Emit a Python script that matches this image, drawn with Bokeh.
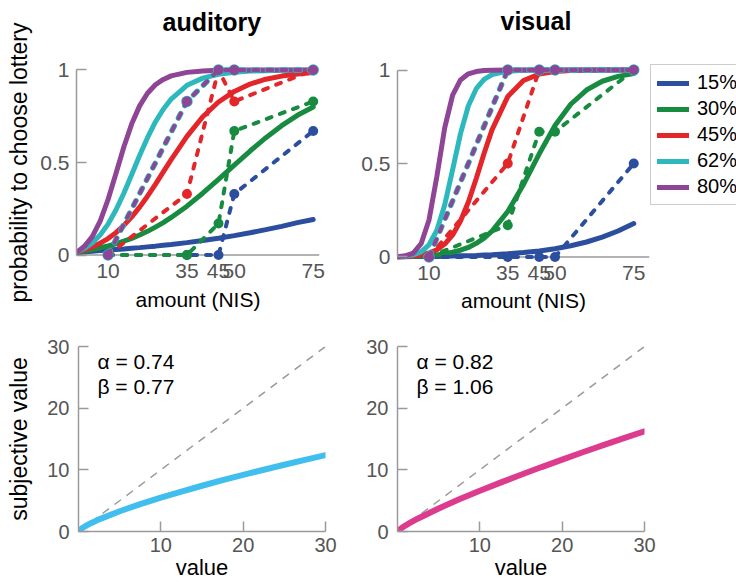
from bokeh.plotting import figure
from bokeh.layouts import column, row
from bokeh.models import Range1d, Legend, LegendItem, Label, FixedTicker, Span
from bokeh.embed import file_html
from bokeh.resources import INLINE

FONT = "Liberation Sans"

# ---------------- data ----------------
PANEL_TITLES = ["auditory", "visual"]
PROB_LABELS = ["15%", "30%", "45%", "62%", "80%"]
SERIES_COLORS = ["#2C4E9E", "#178B3F", "#E3262A", "#2DB8BD", "#8F4596"]

# observed choice proportions (dashed lines + dots)
AMOUNTS = [10, 35, 45, 50, 75]
AUD_OBS_15 = [0.0, 0.0, 0.0, 0.33, 0.67]
AUD_OBS_30 = [0.0, 0.0, 0.17, 0.67, 0.83]
AUD_OBS_45 = [0.0, 0.33, 1.0, 0.83, 1.0]
AUD_OBS_62 = [0.0, 0.83, 1.0, 1.0, 1.0]
AUD_OBS_80 = [0.0, 0.83, 1.0, 1.0, 1.0]
VIS_OBS_15 = [0.0, 0.0, 0.0, 0.0, 0.5]
VIS_OBS_30 = [0.0, 0.17, 0.67, 0.67, 1.0]
VIS_OBS_45 = [0.0, 0.5, 1.0, 1.0, 1.0]
VIS_OBS_62 = [0.0, 1.0, 1.0, 1.0, 1.0]
VIS_OBS_80 = [0.0, 1.0, 1.0, 1.0, 1.0]

# fitted curves (solid lines)
FIT_X = [0, 2.5, 5, 7.5, 10, 12.5, 15, 17.5, 20, 22.5, 25, 27.5, 30,
         35, 40, 45, 50, 55, 60, 65, 70, 75]
AUD_FIT_15 = [0.014, 0.018, 0.021, 0.024, 0.027, 0.030, 0.033, 0.037, 0.040, 0.044, 0.048,
              0.053, 0.057, 0.067, 0.079, 0.091, 0.105, 0.120, 0.137, 0.155, 0.175, 0.192]
AUD_FIT_30 = [0.014, 0.022, 0.030, 0.039, 0.049, 0.061, 0.075, 0.090, 0.108, 0.128, 0.151,
              0.175, 0.203, 0.264, 0.334, 0.409, 0.486, 0.562, 0.634, 0.699, 0.755, 0.800]
AUD_FIT_45 = [0.014, 0.028, 0.044, 0.064, 0.089, 0.121, 0.160, 0.206, 0.259, 0.318, 0.382,
              0.449, 0.516, 0.641, 0.747, 0.827, 0.884, 0.924, 0.950, 0.967, 0.978, 0.986]
AUD_FIT_62 = [0.014, 0.036, 0.065, 0.108, 0.167, 0.243, 0.334, 0.435, 0.538, 0.634, 0.719,
              0.788, 0.843, 0.917, 0.956, 0.977, 0.988, 0.994, 0.996, 0.998, 0.999, 0.999]
AUD_FIT_80 = [0.014, 0.047, 0.099, 0.183, 0.300, 0.441, 0.584, 0.709, 0.806, 0.874, 0.920,
              0.949, 0.968, 0.987, 0.995, 0.998, 0.999, 1.0, 1.0, 1.0, 1.0, 1.0]
VIS_FIT_15 = [0.001, 0.001, 0.002, 0.002, 0.003, 0.003, 0.004, 0.005, 0.006, 0.007, 0.008,
              0.010, 0.012, 0.017, 0.024, 0.032, 0.044, 0.060, 0.080, 0.106, 0.139, 0.179]
VIS_FIT_30 = [0.001, 0.002, 0.003, 0.005, 0.007, 0.011, 0.017, 0.025, 0.036, 0.051, 0.073,
              0.101, 0.138, 0.243, 0.388, 0.552, 0.703, 0.817, 0.893, 0.940, 0.966, 0.981]
VIS_FIT_45 = [0.001, 0.003, 0.005, 0.011, 0.021, 0.038, 0.069, 0.118, 0.192, 0.294, 0.420,
              0.555, 0.680, 0.858, 0.944, 0.978, 0.992, 0.997, 0.999, 1.0, 1.0, 1.0]
VIS_FIT_62 = [0.001, 0.004, 0.011, 0.027, 0.065, 0.143, 0.279, 0.467, 0.660, 0.809, 0.900,
              0.950, 0.976, 0.994, 0.999, 1.0, 1.0, 1.0, 1.0, 1.0, 1.0, 1.0]
VIS_FIT_80 = [0.001, 0.006, 0.021, 0.071, 0.198, 0.431, 0.692, 0.866, 0.947, 0.980, 0.992,
              0.997, 0.999, 1.0, 1.0, 1.0, 1.0, 1.0, 1.0, 1.0, 1.0, 1.0]

# subjective value curves
SV_X = [0, 0.5, 1, 1.5, 2.5, 5, 7.5, 10, 12.5, 15, 17.5, 20, 22.5, 25, 27.5, 30]
AUD_SV = [0, 0.60, 1.0, 1.35, 1.97, 3.29, 4.44, 5.50, 6.48, 7.42, 8.32, 9.18, 10.01, 10.83, 11.62, 12.39]
VIS_SV = [0, 0.57, 1.0, 1.39, 2.12, 3.74, 5.22, 6.61, 7.93, 9.21, 10.45, 11.66, 12.85, 14.01, 15.14, 16.26]
IDENTITY = [0, 30]

TOP_XTICKS = [10, 35, 45, 50, 75]
TOP_YTICKS = [0, 0.5, 1]
TOP_YTICK_LABELS = ["0", "0.5", "1"]
BOT_XTICKS = [10, 20, 30]
BOT_YTICKS = [0, 10, 20, 30]

AXIS_GREY = "#9a9a9a"
LABEL_GREY = "#555555"


def style(p, tick_size, xlab_size, ylab_size):
    p.outline_line_color = None
    p.xgrid.visible = False
    p.ygrid.visible = False
    p.background_fill_color = "white"
    p.border_fill_color = "white"
    for ax in p.axis:
        ax.axis_line_color = AXIS_GREY
        ax.axis_line_width = 1.5
        ax.major_tick_line_color = AXIS_GREY
        ax.major_tick_line_width = 1.5
        ax.major_tick_in = 10
        ax.major_tick_out = 0
        ax.minor_tick_line_color = None
        ax.major_label_text_color = LABEL_GREY
        ax.major_label_text_font = FONT
        ax.major_label_text_font_size = tick_size
        ax.axis_label_text_font = FONT
        ax.axis_label_text_font_style = "normal"
        ax.axis_label_text_color = "black"
    p.xaxis.axis_label_text_font_size = xlab_size
    p.yaxis.axis_label_text_font_size = ylab_size


def top_panel(title, title_offset, title_standoff, fits, obs, xmax, fw, fh,
              mb_top, mb_bottom, mb_left, mb_right, ylabel, xlabel_standoff):
    p = figure(frame_width=fw, frame_height=fh,
               x_range=Range1d(0, xmax), y_range=Range1d(-0.035, 1.035),
               min_border_left=mb_left, min_border_right=mb_right,
               min_border_top=mb_top, min_border_bottom=mb_bottom,
               toolbar_location=None, output_backend="svg", title=title + "\n")
    p.title.text_font = FONT
    p.title.text_font_style = "bold"
    p.title.text_font_size = "25px"
    p.title.text_color = "black"
    p.title.text_line_height = 0.85
    p.title.align = "left"
    p.title.offset = title_offset
    p.title.standoff = title_standoff
    # x axis line at probability 0
    p.add_layout(Span(location=0, dimension="width", line_color=AXIS_GREY,
                      line_width=1.5, level="underlay"))
    fit_renderers = []
    for ys, c in zip(fits, SERIES_COLORS):
        fit_renderers.append(p.line(FIT_X, ys, line_color=c, line_width=5, line_cap="round"))
    for i, (ys, c) in enumerate(zip(obs, SERIES_COLORS)):
        w = 5.5 if i == 3 else 4
        s = 11.5 if i == 3 else 10
        p.line(AMOUNTS, ys, line_color=c, line_width=w, line_dash="5 9", line_cap="round")
        p.scatter(AMOUNTS, ys, marker="circle", size=s, fill_color=c, line_color=None)
    style(p, "21px", "21px", "23px")
    p.xaxis.ticker = FixedTicker(ticks=TOP_XTICKS)
    p.xaxis.axis_line_color = None
    p.xaxis.major_tick_line_color = None
    p.xaxis.major_label_standoff = 2
    p.xaxis.axis_label = "amount (NIS)"
    p.xaxis.axis_label_standoff = xlabel_standoff
    p.yaxis.ticker = FixedTicker(ticks=TOP_YTICKS)
    p.yaxis.bounds = (0, 1)
    p.yaxis.major_label_overrides = {t: l for t, l in zip(TOP_YTICKS, TOP_YTICK_LABELS)}
    p.yaxis.major_label_standoff = 7
    if ylabel:
        p.yaxis.axis_label = ylabel
        p.yaxis.axis_label_standoff = 5
    return p, fit_renderers


def bottom_panel(sv, color, alpha_txt, beta_txt, ylabel, mb_left, mb_right):
    p = figure(frame_width=247, frame_height=185,
               x_range=Range1d(0, 30), y_range=Range1d(0, 30),
               min_border_left=mb_left, min_border_right=mb_right,
               min_border_top=28, min_border_bottom=53,
               toolbar_location=None, output_backend="svg")
    p.line(IDENTITY, IDENTITY, line_color=AXIS_GREY, line_width=1.5, line_dash="8 7")
    p.line(SV_X, sv, line_color=color, line_width=6, line_cap="round")
    for txt, yy in ((alpha_txt, 27.6), (beta_txt, 23.5)):
        p.add_layout(Label(x=2.3, y=yy, text=txt, text_font=FONT, text_font_size="21px",
                           text_baseline="middle", text_color="black"))
    style(p, "20px", "22px", "23px")
    p.xaxis.ticker = FixedTicker(ticks=BOT_XTICKS)
    p.xaxis.major_label_standoff = 6
    p.xaxis.axis_label = "value"
    p.xaxis.axis_label_standoff = 0
    p.yaxis.ticker = FixedTicker(ticks=BOT_YTICKS)
    p.yaxis.major_label_standoff = 9
    if ylabel:
        p.yaxis.axis_label = ylabel
        p.yaxis.axis_label_standoff = 12
    return p


tl, _ = top_panel(PANEL_TITLES[0], 86, 7,
                  [AUD_FIT_15, AUD_FIT_30, AUD_FIT_45, AUD_FIT_62, AUD_FIT_80],
                  [AUD_OBS_15, AUD_OBS_30, AUD_OBS_45, AUD_OBS_62, AUD_OBS_80],
                  77, 243, 198, 61, 56, 76, 10, "probability to choose lottery", 7)
tr, fit_r = top_panel(PANEL_TITLES[1], 103, 9,
                      [VIS_FIT_15, VIS_FIT_30, VIS_FIT_45, VIS_FIT_62, VIS_FIT_80],
                      [VIS_OBS_15, VIS_OBS_30, VIS_OBS_45, VIS_OBS_62, VIS_OBS_80],
                      80, 252, 200, 63, 55, 68, 1, None, 6)

legend = Legend(items=[LegendItem(label=l, renderers=[r]) for l, r in zip(PROB_LABELS, fit_r)],
                location=(1, 58), margin=0, padding=6, spacing=3,
                glyph_width=32, glyph_height=20, label_height=20, label_standoff=8,
                label_text_font=FONT, label_text_font_size="20px", label_text_color="black",
                border_line_color=AXIS_GREY, border_line_width=1.5,
                background_fill_color="white", background_fill_alpha=1.0)
tr.add_layout(legend, "right")

bl = bottom_panel(AUD_SV, "#40BEEE", "α = 0.74", "β = 0.77", "subjective value", 78, 12)
br = bottom_panel(VIS_SV, "#DD3C8E", "α = 0.82", "β = 1.06", None, 60, 20)

layout = column(row(tl, tr), row(bl, br))

open("out.html", "w").write(file_html(layout, INLINE))
